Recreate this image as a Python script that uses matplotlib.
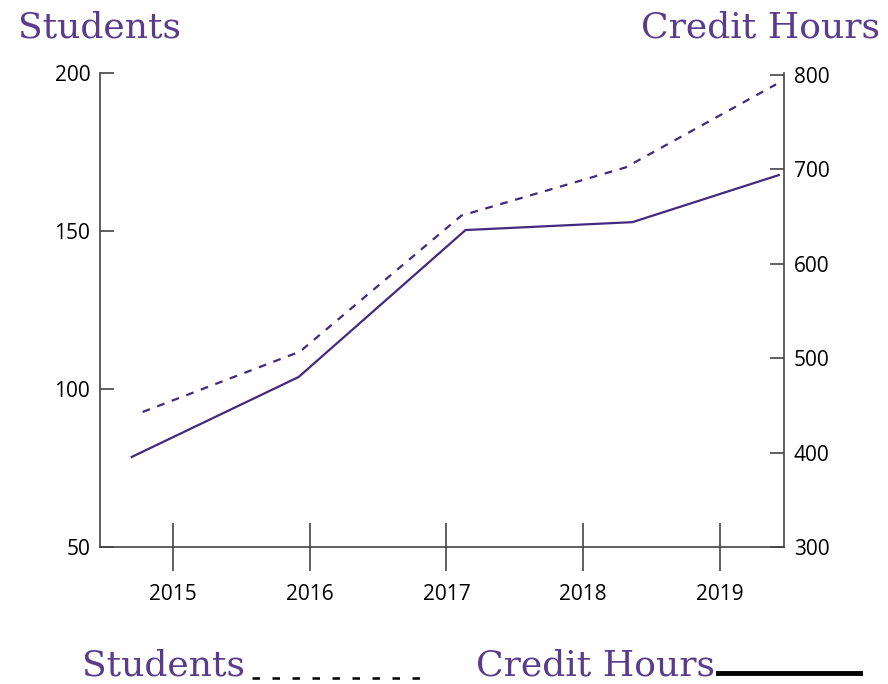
import matplotlib.pyplot as plt
from matplotlib.lines import Line2D

# values
years = [2015, 2016, 2017, 2018, 2019]
students_x = [2014.70, 2015.92, 2017.14, 2018.36, 2019.43]
students = [78.5, 103.8, 150.3, 152.8, 167.7]
credit_x = [2014.78, 2015.93, 2017.11, 2018.31, 2019.41]
credit_hours = [443, 507, 651, 702, 790]
left_ticks = [50, 100, 150, 200]
right_ticks = [300, 400, 500, 600, 700, 800]

line_color = '#43297f'
title_color = '#5a3b8c'
spine_color = '#444444'

fig = plt.figure(figsize=(8.88, 6.84), dpi=100)
ax = fig.add_axes([100 / 888, 1 - 547 / 684, 684 / 888, 474 / 684])
ax2 = ax.twinx()

ax.plot(students_x, students, color=line_color, lw=1.6)
ax2.plot(credit_x, credit_hours, color=line_color, lw=1.6, linestyle=(0, (3.5, 3.5)))

ax.set_xlim(2014.468, 2019.468)
ax.set_ylim(50, 200)
ax2.set_ylim(300, 802)
ax.set_xticks(years)
ax.set_yticks(left_ticks)
ax2.set_yticks(right_ticks)

for a in (ax, ax2):
    a.spines['top'].set_visible(False)
    for s in a.spines.values():
        s.set_color(spine_color)
        s.set_linewidth(1.2)
ax.spines['right'].set_visible(False)
ax2.spines['left'].set_visible(False)
ax2.spines['bottom'].set_visible(False)

ax.tick_params(axis='x', direction='inout', length=34, width=1.2, color=spine_color, pad=10)
ax.tick_params(axis='y', direction='in', length=10, width=1.2, color=spine_color, pad=7)
ax2.tick_params(axis='y', direction='in', length=10, width=1.2, color=spine_color, pad=7)
for lab in ax.get_xticklabels() + ax.get_yticklabels() + ax2.get_yticklabels():
    lab.set_fontfamily('Open Sans')
    lab.set_fontsize(15)

serif = 'DejaVu Serif'
# axis titles at the top corners
fig.text(18 / 888, 1 - 37 / 684, 'Students', fontsize=26, family=serif,
         color=title_color, ha='left', va='baseline')
fig.text(880 / 888, 1 - 37 / 684, 'Credit Hours', fontsize=26, family=serif,
         color=title_color, ha='right', va='baseline')

# legend along the bottom
fig.text(82 / 888, 1 / 684, 'Students', fontsize=26, family=serif,
         color=title_color, ha='left', va='bottom')
fig.add_artist(Line2D([252 / 888, 432 / 888], [1 - 678 / 684] * 2, color='black',
                      lw=1.8, linestyle=(0, (3, 5))))
fig.text(476 / 888, 1 / 684, 'Credit Hours', fontsize=26, family=serif,
         color=title_color, ha='left', va='bottom')
fig.add_artist(Line2D([718 / 888, 860 / 888], [1 - 673 / 684] * 2, color='black', lw=3.5))

fig.savefig('out.png', dpi=100)
